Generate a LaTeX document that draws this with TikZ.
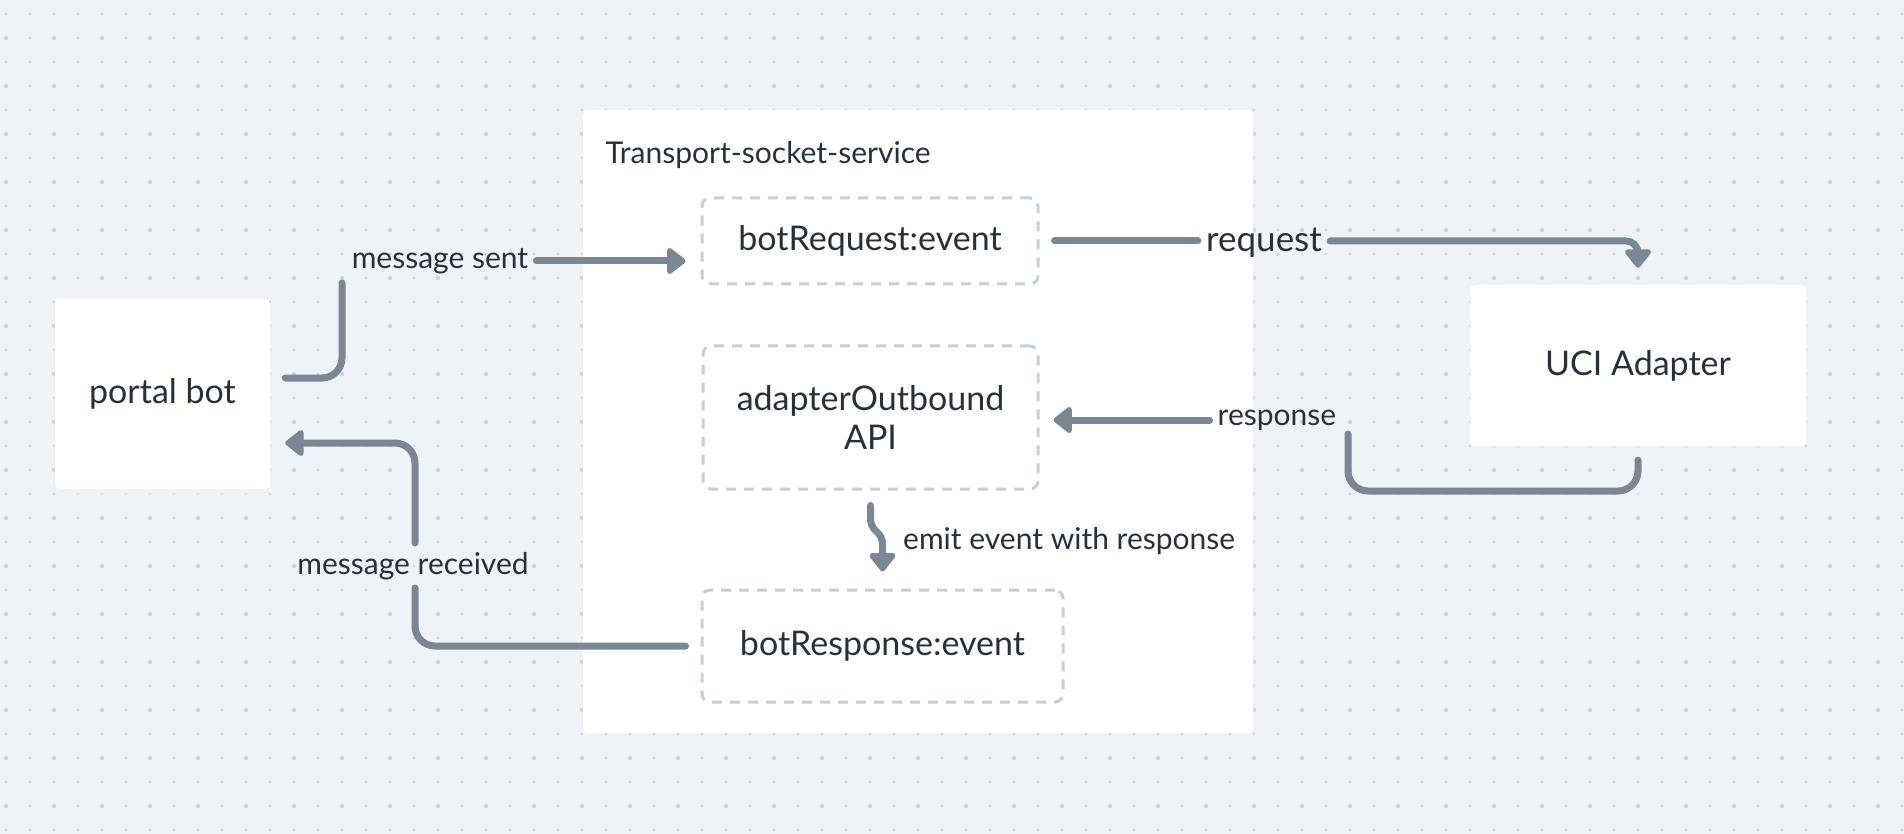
\documentclass[tikz,border=0pt]{standalone}
\usepackage{fontspec}
\setmainfont{Lato}
\usetikzlibrary{arrows.meta}

\definecolor{sfondo}{HTML}{EFF2F6}
\definecolor{puntini}{HTML}{CDD3DD}
\definecolor{freccia}{HTML}{7B8794}
\definecolor{testo}{HTML}{27313D}
\definecolor{tratteggio}{HTML}{C8CFD7}

\begin{document}
\begin{tikzpicture}[x=1pt, y=-1pt,
    blocco/.style={fill=white, rounded corners=5pt, text=testo, font=\fontsize{34}{39}\selectfont, align=center},
    evento/.style={blocco, draw=tratteggio, line width=3pt, dash pattern=on 10pt off 8pt, rounded corners=8pt},
    etichetta/.style={text=testo, font=\fontsize{30}{34}\selectfont, inner sep=2pt},
    linea/.style={draw=freccia, line width=7pt, line cap=round, rounded corners=20pt},
    freccina/.style={linea, -{Triangle[length=20pt, width=30pt, round]}}]
    % Sfondo a puntini
    \fill[sfondo] (0,0) rectangle (1904,834);
    \useasboundingbox (0,0) rectangle (1904,834);
    \foreach \i in {0,...,79} {
        \foreach \j in {0,...,34} {
            \pgfmathsetmacro{\raggio}{(mod(\i,2)==0 && mod(\j,2)==1) ? 2.2 : 1.3}
            \fill[puntini] (6+24*\i,14+24*\j) circle (\raggio pt);
        }
    }
    % Contenitore del servizio
    \node[blocco, minimum width=670, minimum height=623] (servizio) at (918,421.5) {};
    \node[anchor=west, text=testo, font=\fontsize{30}{34}\selectfont] (titolo) at (602,155) {Transport-socket-service};
    % Blocchi esterni
    \node[blocco, minimum width=215, minimum height=190] (portal) at (162.5,394) {portal bot};
    \node[blocco, minimum width=336, minimum height=161] (uci) at (1638,365.5) {UCI Adapter};
    % Eventi tratteggiati
    \node[evento, minimum width=336, minimum height=86] (botreq) at (870,241) {botRequest:event};
    \node[evento, minimum width=335, minimum height=143] (adapter) at (870.5,417.5) {adapterOutbound\\API};
    \node[evento, minimum width=361, minimum height=112] (botresp) at (882.5,646) {botResponse:event};
    % Etichette dei collegamenti
    \node[etichetta] (msgsent) at (440,261) {message sent};
    \node[etichetta, font=\fontsize{35}{40}\selectfont] (req) at (1264,243) {request};
    \node[etichetta] (resp) at (1277,420) {response};
    \node[etichetta, anchor=west] (emit) at (901,541) {emit event with response};
    \node[etichetta] (msgrecv) at (413,566) {message received};
    \coordinate (sentup) at (342,283);
    \coordinate (respup) at (1348,434);
    \coordinate (recvdown) at (415,588);
    \coordinate (recvup) at (415,543);
    % Richiesta dal portale
    \draw[linea] ([shift={(15,-16)}]portal.east) -| (sentup);
    \draw[freccina] ([xshift=6pt]msgsent.east) -- ([xshift=-15pt]msgsent.east -| botreq.west);
    % Richiesta verso l'adapter
    \draw[linea] ([xshift=15pt]botreq.east) -- ([xshift=-6pt]botreq.east -| req.west);
    \draw[freccina, rounded corners=12pt] ([xshift=6pt]botreq.east -| req.east) -| ([yshift=17pt]uci.north);
    % Risposta dell'adapter
    \draw[linea] ([yshift=-14pt]uci.south) |- (respup |- 0,491) -- (respup);
    \draw[freccina] ([xshift=-6pt]resp.west) -- ([xshift=14pt]resp.west -| adapter.east);
    % Evento emesso
    \draw[freccina, rounded corners=6pt] ([yshift=-15pt]adapter.south) -- ++(0,20) -- ++(12,12) -- ([yshift=17pt]botresp.north);
    % Messaggio ricevuto
    \draw[linea] ([xshift=-15pt]botresp.west) -| (recvdown);
    \draw[freccina] (recvup) |- ([shift={(15,49)}]portal.east);
\end{tikzpicture}
\end{document}
